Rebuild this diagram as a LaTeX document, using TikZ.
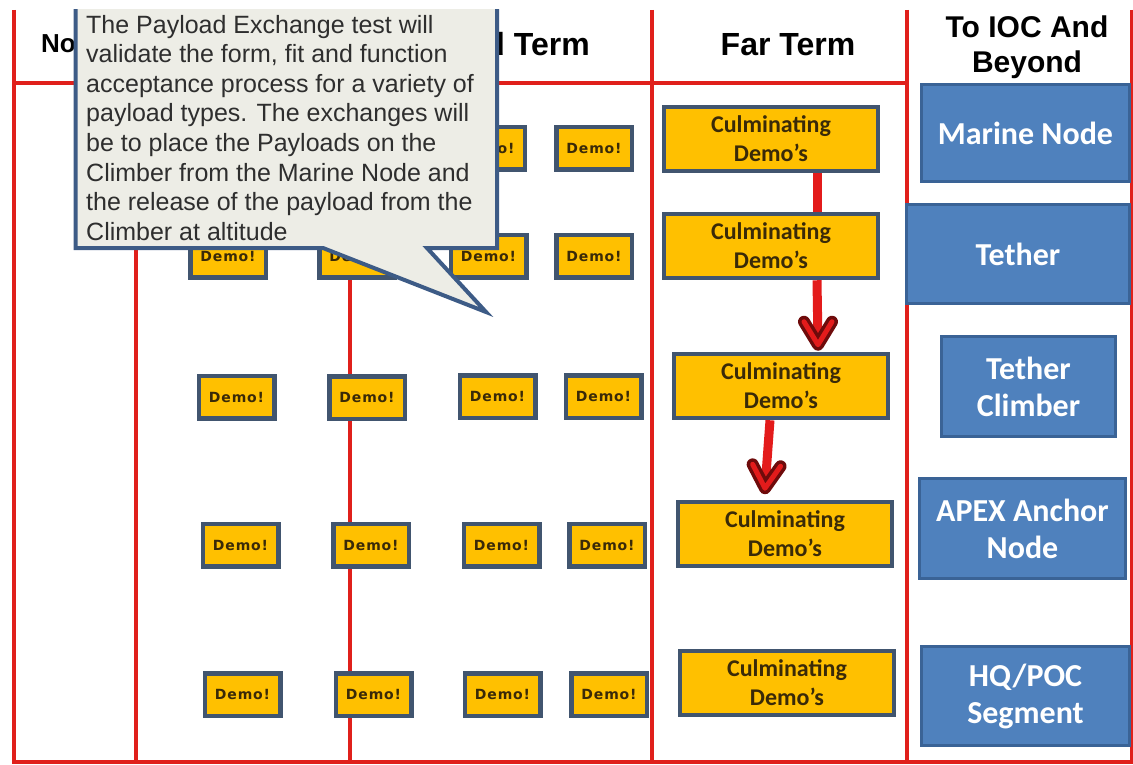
\documentclass[tikz,border=0pt]{standalone}
\usepackage{fontspec}
\setmainfont{Liberation Sans}
\newfontfamily\calfont{Carlito}
\newfontfamily\demofont[LetterSpace=6]{DejaVu Sans}
\usetikzlibrary{calc}

\definecolor{gridred}{HTML}{E0201B}
\definecolor{boxgold}{HTML}{FFC000}
\definecolor{boxedge}{HTML}{41556F}
\definecolor{nodeblue}{HTML}{4F81BD}
\definecolor{nodeedge}{HTML}{3A6396}
\definecolor{calloutfill}{HTML}{EDEDE6}
\definecolor{calloutedge}{HTML}{3D5B86}
\definecolor{calloutink}{HTML}{2E2E2E}
\definecolor{darkred}{HTML}{6E0B0B}
\definecolor{arrowred}{HTML}{E31B1B}
\definecolor{inktext}{HTML}{3A2A08}

\begin{document}
\begin{tikzpicture}[x=1pt,y=-1pt,
  gridline/.style={draw=gridred,line width=4pt},
  demo/.style={draw=boxedge,fill=boxgold,line width=4.5pt,minimum width=75.5pt,
    minimum height=42.5pt,inner sep=0pt,text=inktext,
    font=\demofont\fontsize{14}{16}\selectfont\bfseries},
  culm/.style={draw=boxedge,fill=boxgold,line width=4.5pt,minimum width=214pt,
    minimum height=64pt,inner sep=0pt,align=center,text=inktext,
    font=\calfont\fontsize{24}{29}\selectfont\bfseries},
  segment/.style={draw=nodeedge,fill=nodeblue,line width=3pt,inner sep=0pt,
    align=center,text=white,font=\calfont\fontsize{32}{37}\selectfont\bfseries},
  header/.style={inner sep=0pt,text=black},
  shaft/.style={draw=arrowred,line width=9pt},
  barbout/.style={draw=darkred,line width=12pt,line cap=round,line join=round},
  barbin/.style={draw=arrowred,line width=5pt,line cap=round,line join=round},
  callout/.style={draw=calloutedge,fill=calloutfill,line width=4pt,line join=miter},
]
\useasboundingbox (0,0) rectangle (1133,765);

% ---- table grid ----
\foreach \gx in {14,136,350,652,907}
  \draw[gridline] (\gx,10) -- (\gx,762);
\draw[gridline,line width=2.5pt] (1131.5,10) -- (1131.5,762);
\draw[gridline] (14,83) -- (907,83);
\draw[gridline] (12,762) -- (1133,762);

% ---- column headings ----
\node[header,anchor=base west,font=\bfseries\fontsize{26}{30}\selectfont] (hNow) at (41,53) {Now};
\node[header,anchor=base east,font=\bfseries\fontsize{32}{36}\selectfont] (hMid) at (590,56) {Mid Term};
\node[header,anchor=base,font=\bfseries\fontsize{32}{36}\selectfont] (hFar) at (788,56) {Far Term};
\node[header,anchor=north,align=center,font=\bfseries\fontsize{30}{35}\selectfont] (hIOC) at (1027,15.5) {To IOC And\\Beyond};

% ---- demo boxes ----
\node[demo] (d1c) at (487,148.5) {Demo!};
\node[demo] (d1d) at (594,148.5) {Demo!};
\node[demo] (d2a) at (228,256) {Demo!};
\node[demo] (d2b) at (357,256) {Demo!};
\node[demo] (d2c) at (488.5,256) {Demo!};
\node[demo] (d2d) at (594,256) {Demo!};
\node[demo] (d3a) at (236.5,397) {Demo!};
\node[demo] (d3b) at (367,397.5) {Demo!};
\node[demo] (d3c) at (497.5,396.5) {Demo!};
\node[demo] (d3d) at (603.5,396.5) {Demo!};
\node[demo] (d4a) at (240.5,545) {Demo!};
\node[demo] (d4b) at (371,545) {Demo!};
\node[demo] (d4c) at (501.5,545) {Demo!};
\node[demo] (d4d) at (607,545) {Demo!};
\node[demo] (d5a) at (242.5,694.5) {Demo!};
\node[demo] (d5b) at (373.5,694.5) {Demo!};
\node[demo] (d5c) at (502.5,694.5) {Demo!};
\node[demo] (d5d) at (609,694.5) {Demo!};

% ---- culminating demos ----
\node[culm] (c1) at (771,139) {Culminating\\Demo’s};
\node[culm] (c2) at (771,246) {Culminating\\Demo’s};
\node[culm] (c3) at (781,386) {Culminating\\Demo’s};
\node[culm] (c4) at (785,534) {Culminating\\Demo’s};
\node[culm] (c5) at (787,683) {Culminating\\Demo’s};

% ---- connectors between culminating demos ----
\coordinate (tipA) at ($(c3.north)+(37,-7)$);
\coordinate (tipB) at ($(c4.north)+(-20,-11.5)$);
\draw[shaft] ($(c1.south)+(46,0)$) -- ($(c2.north)+(46,0)$);
\draw[shaft] ($(c2.south)+(46,0)$) -- (tipA);
\draw[shaft] ($(c3.south)+(-11,0)$) -- (tipB);
\begin{scope}[shift={(tipA)}]
  \draw[barbout] (-14,-23) -- (0,0) -- (14,-23);
  \draw[barbin] (-14,-23) -- (0,0) -- (14,-23);
\end{scope}
\begin{scope}[shift={(tipB)},rotate=-4]
  \draw[barbout] (-14,-23) -- (0,0) -- (14,-23);
  \draw[barbin] (-14,-23) -- (0,0) -- (14,-23);
\end{scope}

% ---- segments ----
\node[segment,minimum width=208pt,minimum height=97pt] (sMarine) at (1025.5,133) {Marine Node};
\node[segment,minimum width=223pt,minimum height=99pt] (sTether) at (1018,254) {Tether};
\node[segment,minimum width=174pt,minimum height=100pt] (sClimber) at (1028.5,386.5) {Tether\\Climber};
\node[segment,minimum width=206pt,minimum height=100pt] (sApex) at (1022.5,528.5) {APEX Anchor\\Node};
\node[segment,minimum width=208pt,minimum height=99pt] (sHQ) at (1025.5,696) {HQ/POC\\Segment};

% ---- callout ----
\begin{scope}
  \clip (0,10) rectangle (1133,765);
  \draw[callout] (75.5,0) -- (75.5,248) -- (323,248) -- (486,312) -- (427,248)
    -- (497,248) -- (497,0) -- cycle;
\end{scope}
\node[anchor=north west,inner sep=0pt,align=left,text=calloutink,
  font=\fontsize{25}{29.6}\selectfont] (note) at (86,14.8)
  {The Payload Exchange test will\\
   validate the form, fit and function\\
   acceptance process for a variety of\\
   payload types. The exchanges will\\
   be to place the Payloads on the\\
   Climber from the Marine Node and\\
   the release of the payload from the\\
   Climber at altitude};
\end{tikzpicture}
\end{document}
